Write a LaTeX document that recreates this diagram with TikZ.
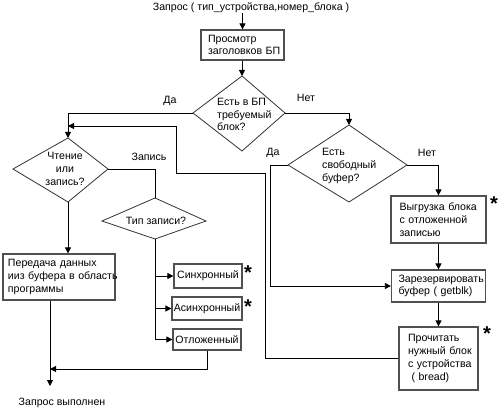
\documentclass[tikz,border=0pt]{standalone}
\usepackage{fontspec}
\setmainfont{Liberation Sans}
\usetikzlibrary{arrows.meta}
\definecolor{boxgray}{RGB}{80,80,80}
\begin{document}
\begin{tikzpicture}[x=1pt,y=-1pt,
  every node/.style={font=\fontsize{10.6}{12.8}\selectfont, inner sep=0pt},
  box/.style={draw=boxgray, line width=1.2pt, rectangle, align=left},
  cbox/.style={draw=boxgray, line width=1.2pt, rectangle, align=center},
  dia/.style={draw=black!80, line width=0.8pt},
  conn/.style={draw=black, line width=0.8pt},
  arr/.style={conn, -{Triangle[length=6pt,width=6pt]}},
  star/.style={font=\fontsize{20}{20}\selectfont\bfseries, anchor=north},
]
\useasboundingbox (0,0) rectangle (500,411);

% title and first box
\node (title) at (251,8) {Запрос ( тип\_устройства,номер\_блока )};
\node[box, minimum width=83pt, minimum height=30pt, text width=69pt, inner xsep=7pt] (prosm) at (242.5,45) {Просмотр\\заголовков~БП};

% diamond 1
\coordinate (d1t) at (242,76);
\coordinate (d1l) at (193,113);
\coordinate (d1r) at (285,113);
\coordinate (d1b) at (242,151);
\draw[dia] (d1t) -- (d1r) -- (d1b) -- (d1l) -- cycle;
\node[anchor=west, align=left] (d1txt) at (217,114.5) {Есть в БП\\требуемый\\блок?};

% diamond 2
\coordinate (d2t) at (68,138);
\coordinate (d2l) at (13,169);
\coordinate (d2r) at (108,169);
\coordinate (d2b) at (68,202);
\draw[dia] (d2t) -- (d2r) -- (d2b) -- (d2l) -- cycle;
\node[align=center] (d2txt) at (65,169) {Чтение\\или\\запись?};

% diamond 3
\coordinate (d3t) at (155,198);
\coordinate (d3l) at (102,221);
\coordinate (d3r) at (206,221);
\coordinate (d3b) at (155,239);
\draw[dia] (d3t) -- (d3r) -- (d3b) -- (d3l) -- cycle;
\node (d3txt) at (156,221) {Тип записи?};

% diamond 4
\coordinate (d4t) at (349,125);
\coordinate (d4l) at (288,165);
\coordinate (d4r) at (407,165);
\coordinate (d4b) at (349,202);
\draw[dia] (d4t) -- (d4r) -- (d4b) -- (d4l) -- cycle;
\node[anchor=west, align=left] (d4txt) at (322,166) {Есть\\свободный\\буфер?};

% boxes
\node[box, minimum width=112pt, minimum height=46pt, text width=102pt, inner xsep=5pt] (pered) at (59,277) {Передача~данных\\ииз~буфера~в~область\\программы};
\node[cbox, minimum width=68pt, minimum height=24pt] (sinh) at (208,276) {Синхронный};
\node[cbox, minimum width=70pt, minimum height=23pt] (asinh) at (207,308.5) {Асинхронный};
\node[cbox, minimum width=68pt, minimum height=21pt] (otl) at (207,339.5) {Отложенный};
\node[box, minimum width=95pt, minimum height=47pt, text width=78pt, inner xsep=8.5pt] (vygr) at (438.5,219.5) {Выгрузка~блока\\с~отложенной\\ записью};
\node[box, minimum width=94pt, minimum height=32pt, text width=80pt, inner xsep=7pt] (zarez) at (438.5,286) {Зарезервировать\\буфер~(~getblk)};
\node[box, minimum width=79pt, minimum height=63pt, text width=61pt, inner xsep=9pt] (proch) at (438.5,358.5) {Прочитать\\нужный~блок\\с~устройства\\ ~(~bread)};

% stars
\node[star] (s1) at (494,197) {*};
\node[star] (s2) at (487,327) {*};
\node[star] (s3) at (248,266) {*};
\node[star] (s4) at (248,300) {*};

% labels
\node (yes1) at (170,101) {Да};
\node (no1) at (306,98) {Нет};
\node (zap) at (149,157) {Запись};
\node (yes2) at (273,153) {Да};
\node (no2) at (427,153) {Нет};
\node (done) at (62,403) {Запрос выполнен};

% helper coordinates
\coordinate (endpt) at (50,386);
\coordinate (merge) at (50,369);
\coordinate (yesx) at (270,0);
\coordinate (lp1) at (265,173);
\coordinate (lp2) at (176,126);

% connectors
\draw[arr] (title.south -| prosm.north) -- (prosm.north);
\draw[arr] (prosm.south -| d1t) -- (d1t);
\draw[arr] (d1l) -| (d2t);
\draw[arr] (d1r) -| (d4t);
\draw[conn] (d2r) -| (d3t);
\draw[arr] (d2b) -- (d2b |- pered.north);
\draw[conn] (d3b) -- (d3b |- otl.west);
\draw[arr] (d3b |- sinh.west) -- (sinh.west);
\draw[arr] (d3b |- asinh.west) -- (asinh.west);
\draw[arr] (d3b |- otl.west) -- (otl.west);
\draw[arr] (otl.south) |- (merge);
\draw[arr] (endpt |- pered.south) -- (endpt);
\draw[arr] (d4l) -| (zarez.west -| yesx) -- (zarez.west);
\draw[arr] (d4r) -| (vygr.north);
\draw[arr] (vygr.south) -- (zarez.north);
\draw[arr] (zarez.south) -- (proch.north);
\draw[arr] (proch.west) -| (lp1) -| (lp2) -- (d2t |- lp2);
\end{tikzpicture}
\end{document}
